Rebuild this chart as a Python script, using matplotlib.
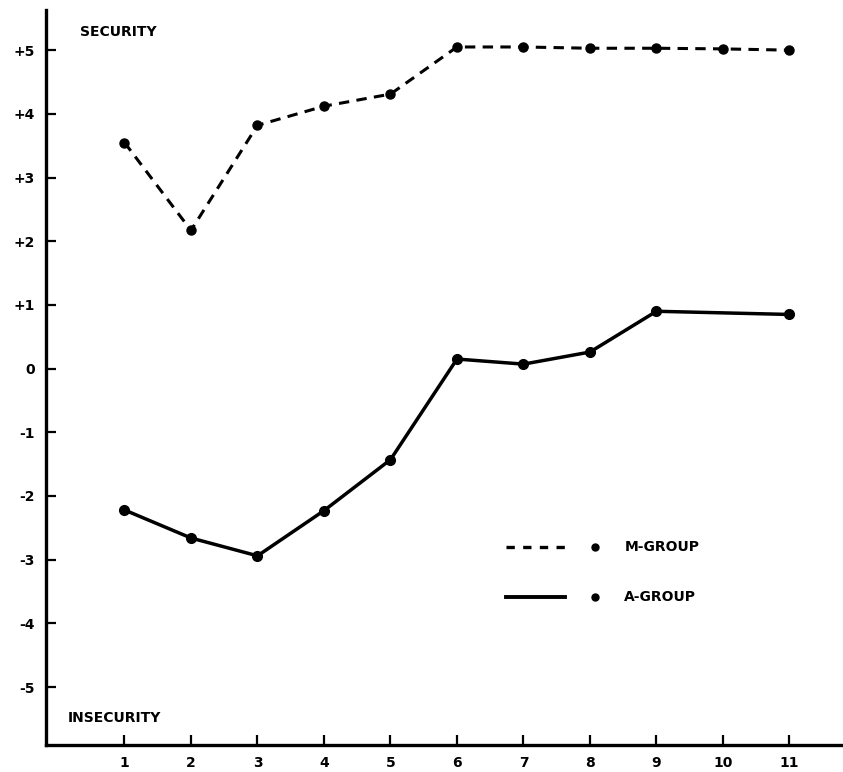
import matplotlib
matplotlib.use("Agg")
import matplotlib.pyplot as plt

# Session numbers and mean scores
m_sessions = [1, 2, 3, 4, 5, 6, 7, 8, 9, 10, 11]
m_scores = [3.55, 2.17, 3.82, 4.12, 4.31, 5.05, 5.05, 5.03, 5.03, 5.02, 5.00]

a_sessions = [1, 2, 3, 4, 5, 6, 7, 8, 9, 11]
a_scores = [-2.22, -2.66, -2.94, -2.23, -1.43, 0.15, 0.07, 0.26, 0.90, 0.85]

y_ticks = [5, 4, 3, 2, 1, 0, -1, -2, -3, -4, -5]
y_labels = ["+5", "+4", "+3", "+2", "+1", "0", "-1", "-2", "-3", "-4", "-5"]
x_ticks = list(range(1, 12))

plt.rcParams["font.family"] = "DejaVu Sans"

fig = plt.figure(figsize=(8.43, 7.72), dpi=100)
ax = fig.add_axes([0.0546, 0.035, 0.945, 0.952])

ax.plot(m_sessions, m_scores, color="black", linewidth=2.2, linestyle=(0, (3.4, 2.4)),
        marker="o", markersize=6.5)
ax.plot(a_sessions, a_scores, color="black", linewidth=2.5, linestyle="-",
        marker="o", markersize=7)

ax.set_xlim(-0.18, 11.8)
ax.set_ylim(-5.91, 5.63)

ax.set_xticks(x_ticks)
ax.set_xticklabels([str(x) for x in x_ticks], fontsize=10, fontweight="bold")
ax.set_yticks(y_ticks)
ax.set_yticklabels(y_labels, fontsize=10, fontweight="bold")
ax.tick_params(axis="both", direction="in", length=7, width=1.6, pad=8)

for side in ["top", "right"]:
    ax.spines[side].set_visible(False)
for side in ["left", "bottom"]:
    ax.spines[side].set_linewidth(2.4)

ax.text(0.043, 0.98, "SECURITY", transform=ax.transAxes, fontsize=10,
        fontweight="bold", va="top", ha="left")
ax.text(0.027, 0.027, "INSECURITY", transform=ax.transAxes, fontsize=10,
        fontweight="bold", va="bottom", ha="left")

# hand-made key
ax.plot([0.578, 0.651], [0.269, 0.269], transform=ax.transAxes, color="black",
        linewidth=2.4, linestyle=(0, (2.5, 2.5)))
ax.plot([0.689], [0.269], transform=ax.transAxes, color="black", marker="o",
        markersize=5)
ax.text(0.726, 0.269, "M-GROUP", transform=ax.transAxes, fontsize=10,
        fontweight="bold", va="center", ha="left")
ax.plot([0.578, 0.651], [0.201, 0.201], transform=ax.transAxes, color="black",
        linewidth=2.8)
ax.plot([0.689], [0.201], transform=ax.transAxes, color="black", marker="o",
        markersize=5)
ax.text(0.726, 0.201, "A-GROUP", transform=ax.transAxes, fontsize=10,
        fontweight="bold", va="center", ha="left")

fig.savefig("out.png", dpi=100)
